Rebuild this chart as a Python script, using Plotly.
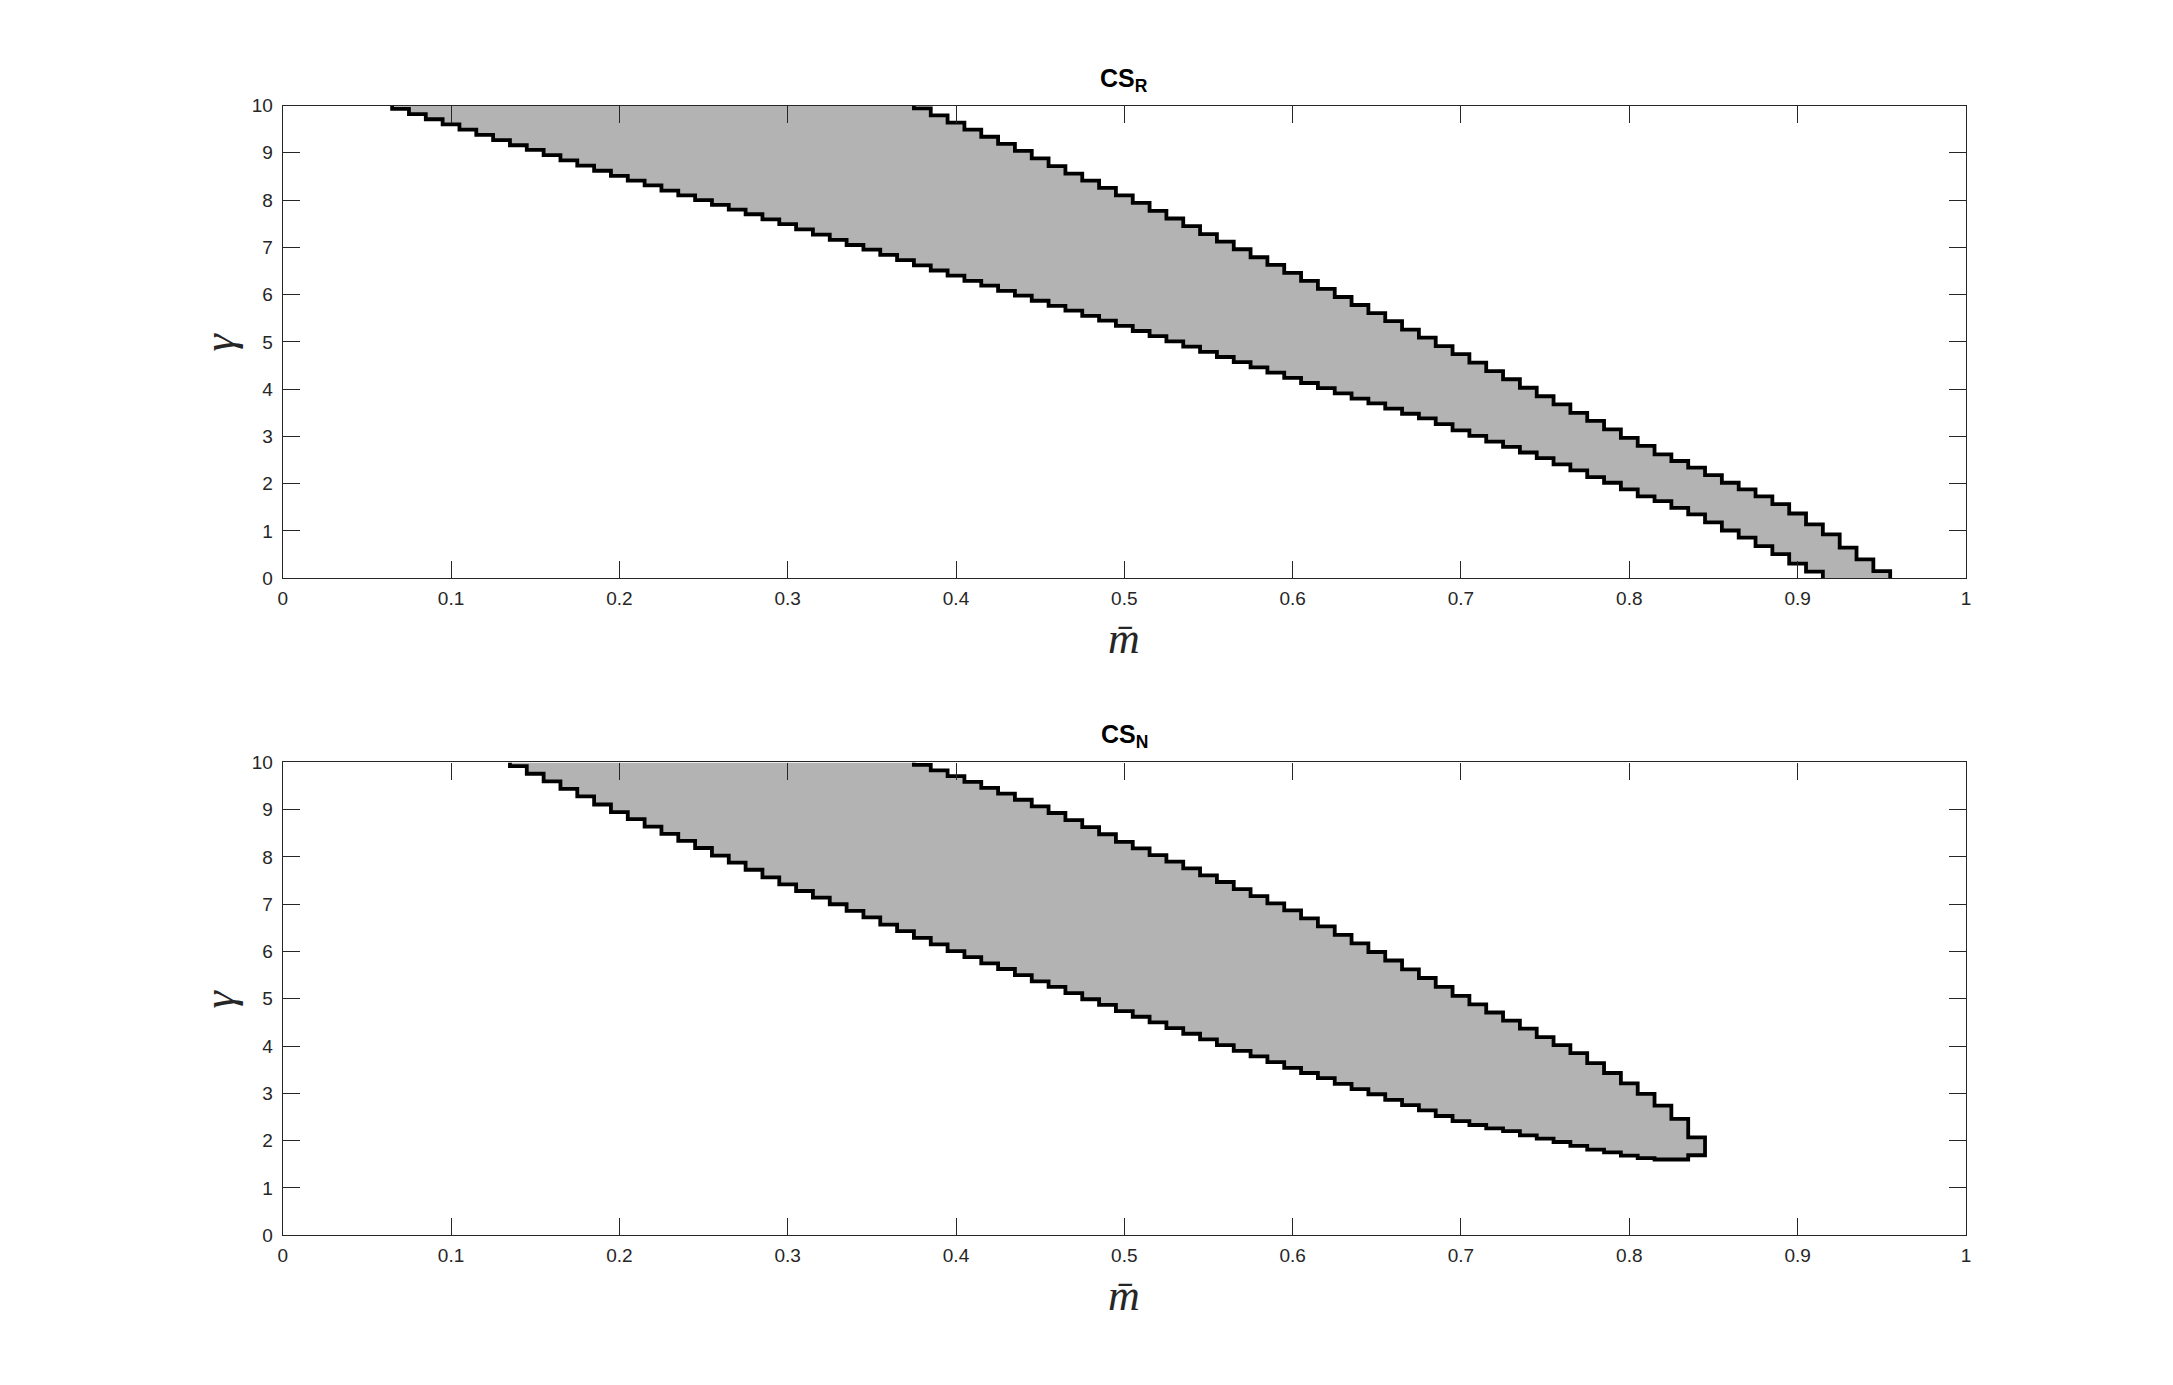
import plotly.graph_objects as go

# ---------------- data ----------------
# CS_R : lower boundary of the region (gamma at each m-cell, cell width 0.01)
M_R_LOW = [0.07, 0.08, 0.09, 0.10, 0.11, 0.12, 0.13, 0.14, 0.15, 0.16, 0.17, 0.18, 0.19, 0.20,
           0.21, 0.22, 0.23, 0.24, 0.25, 0.26, 0.27, 0.28, 0.29, 0.30, 0.31, 0.32, 0.33, 0.34,
           0.35, 0.36, 0.37, 0.38, 0.39, 0.40, 0.41, 0.42, 0.43, 0.44, 0.45, 0.46, 0.47, 0.48,
           0.49, 0.50, 0.51, 0.52, 0.53, 0.54, 0.55, 0.56, 0.57, 0.58, 0.59, 0.60, 0.61, 0.62,
           0.63, 0.64, 0.65, 0.66, 0.67, 0.68, 0.69, 0.70, 0.71, 0.72, 0.73, 0.74, 0.75, 0.76,
           0.77, 0.78, 0.79, 0.80, 0.81, 0.82, 0.83, 0.84, 0.85, 0.86, 0.87, 0.88, 0.89, 0.90, 0.91]
G_R_LOW = [9.93, 9.82, 9.71, 9.60, 9.49, 9.38, 9.27, 9.16, 9.06, 8.95, 8.84, 8.73, 8.62, 8.51,
           8.41, 8.31, 8.20, 8.10, 8.00, 7.90, 7.80, 7.70, 7.59, 7.49, 7.38, 7.27, 7.16, 7.05,
           6.95, 6.84, 6.73, 6.62, 6.51, 6.40, 6.29, 6.19, 6.08, 5.98, 5.87, 5.76, 5.66, 5.55,
           5.45, 5.34, 5.23, 5.12, 5.01, 4.90, 4.79, 4.68, 4.57, 4.46, 4.35, 4.24, 4.13, 4.02,
           3.91, 3.80, 3.70, 3.59, 3.48, 3.38, 3.26, 3.13, 3.01, 2.89, 2.78, 2.66, 2.54, 2.41,
           2.28, 2.14, 2.02, 1.88, 1.73, 1.63, 1.49, 1.35, 1.18, 1.01, 0.86, 0.68, 0.51, 0.31, 0.14]

# CS_R : upper boundary
M_R_UP = [0.38, 0.39, 0.40, 0.41, 0.42, 0.43, 0.44, 0.45, 0.46, 0.47, 0.48, 0.49, 0.50, 0.51,
          0.52, 0.53, 0.54, 0.55, 0.56, 0.57, 0.58, 0.59, 0.60, 0.61, 0.62, 0.63, 0.64, 0.65,
          0.66, 0.67, 0.68, 0.69, 0.70, 0.71, 0.72, 0.73, 0.74, 0.75, 0.76, 0.77, 0.78, 0.79,
          0.80, 0.81, 0.82, 0.83, 0.84, 0.85, 0.86, 0.87, 0.88, 0.89, 0.90, 0.91, 0.92, 0.93,
          0.94, 0.95]
G_R_UP = [9.94, 9.79, 9.64, 9.49, 9.34, 9.19, 9.04, 8.88, 8.72, 8.56, 8.41, 8.26, 8.10, 7.94,
          7.77, 7.61, 7.45, 7.28, 7.12, 6.96, 6.79, 6.63, 6.46, 6.29, 6.12, 5.95, 5.78, 5.61,
          5.44, 5.26, 5.09, 4.91, 4.74, 4.56, 4.38, 4.21, 4.03, 3.85, 3.68, 3.50, 3.33, 3.15,
          2.97, 2.80, 2.62, 2.48, 2.34, 2.18, 2.02, 1.88, 1.73, 1.57, 1.37, 1.14, 0.93, 0.65,
          0.40, 0.15]

# CS_N : lower boundary
M_N_LOW = [0.14, 0.15, 0.16, 0.17, 0.18, 0.19, 0.20, 0.21, 0.22, 0.23, 0.24, 0.25, 0.26, 0.27,
           0.28, 0.29, 0.30, 0.31, 0.32, 0.33, 0.34, 0.35, 0.36, 0.37, 0.38, 0.39, 0.40, 0.41,
           0.42, 0.43, 0.44, 0.45, 0.46, 0.47, 0.48, 0.49, 0.50, 0.51, 0.52, 0.53, 0.54, 0.55,
           0.56, 0.57, 0.58, 0.59, 0.60, 0.61, 0.62, 0.63, 0.64, 0.65, 0.66, 0.67, 0.68, 0.69,
           0.70, 0.71, 0.72, 0.73, 0.74, 0.75, 0.76, 0.77, 0.78, 0.79, 0.80, 0.81, 0.82, 0.83, 0.84]
G_N_LOW = [9.92, 9.76, 9.60, 9.44, 9.28, 9.11, 8.95, 8.80, 8.64, 8.49, 8.34, 8.19, 8.03, 7.88,
           7.73, 7.57, 7.42, 7.28, 7.14, 7.00, 6.86, 6.72, 6.57, 6.43, 6.29, 6.15, 6.01, 5.88,
           5.75, 5.63, 5.50, 5.37, 5.25, 5.12, 4.99, 4.87, 4.74, 4.62, 4.50, 4.38, 4.26, 4.14,
           4.02, 3.90, 3.78, 3.66, 3.54, 3.43, 3.32, 3.20, 3.09, 2.98, 2.86, 2.75, 2.64, 2.52,
           2.41, 2.33, 2.26, 2.20, 2.11, 2.04, 1.97, 1.89, 1.81, 1.75, 1.68, 1.63, 1.60, 1.60, 1.69]

# CS_N : upper boundary
M_N_UP = [0.38, 0.39, 0.40, 0.41, 0.42, 0.43, 0.44, 0.45, 0.46, 0.47, 0.48, 0.49, 0.50, 0.51,
          0.52, 0.53, 0.54, 0.55, 0.56, 0.57, 0.58, 0.59, 0.60, 0.61, 0.62, 0.63, 0.64, 0.65,
          0.66, 0.67, 0.68, 0.69, 0.70, 0.71, 0.72, 0.73, 0.74, 0.75, 0.76, 0.77, 0.78, 0.79,
          0.80, 0.81, 0.82, 0.83, 0.84]
G_N_UP = [9.95, 9.83, 9.71, 9.59, 9.46, 9.34, 9.21, 9.07, 8.93, 8.78, 8.63, 8.48, 8.32, 8.18,
          8.04, 7.90, 7.76, 7.61, 7.47, 7.32, 7.17, 7.02, 6.87, 6.70, 6.53, 6.35, 6.17, 5.99,
          5.81, 5.62, 5.44, 5.25, 5.06, 4.88, 4.71, 4.54, 4.37, 4.19, 4.02, 3.85, 3.64, 3.43,
          3.21, 2.99, 2.74, 2.46, 2.07]

X_TICKS = [0, 0.1, 0.2, 0.3, 0.4, 0.5, 0.6, 0.7, 0.8, 0.9, 1]
X_TICK_LABELS = ["0", "0.1", "0.2", "0.3", "0.4", "0.5", "0.6", "0.7", "0.8", "0.9", "1"]
Y_TICKS = [0, 1, 2, 3, 4, 5, 6, 7, 8, 9, 10]
Y_TICK_LABELS = ["0", "1", "2", "3", "4", "5", "6", "7", "8", "9", "10"]
TITLES = ["<b>CS<sub>R</sub></b>", "<b>CS<sub>N</sub></b>"]
X_LABEL = "m\u0304"
Y_LABEL = "\u03b3"
G_MAX = 10
G_MIN = 0
HALF = 0.005  # half cell width of the m-grid

# ---------------- helpers ----------------
def stairs(ms, gs):
    xs, ys = [], []
    for m, g in zip(ms, gs):
        xs += [m - HALF, m + HALF]
        ys += [g, g]
    return xs, ys

FILL = "#b3b3b3"
AX = "#262626"
LW = 3.8

fig = go.Figure()

# ---- CS_R (top, axes x/y) ----
lx, ly = stairs(M_R_LOW, G_R_LOW)
lx = [M_R_LOW[0] - HALF] + lx + [M_R_LOW[-1] + HALF]
ly = [G_MAX] + ly + [G_MIN]
ux, uy = stairs(M_R_UP, G_R_UP)
ux = [M_R_UP[0] - HALF] + ux + [M_R_UP[-1] + HALF]
uy = [G_MAX] + uy + [G_MIN]
fig.add_trace(go.Scatter(x=lx + ux[::-1], y=ly + uy[::-1], fill="toself", fillcolor=FILL,
                         mode="none", hoverinfo="skip", showlegend=False, xaxis="x", yaxis="y"))
for xs, ys in [(lx, ly), (ux, uy)]:
    fig.add_trace(go.Scatter(x=xs, y=ys, mode="lines", line=dict(color="black", width=LW),
                             hoverinfo="skip", showlegend=False, xaxis="x", yaxis="y"))

# ---- CS_N (bottom, axes x2/y2) ----
lx, ly = stairs(M_N_LOW, G_N_LOW)
lx = [M_N_LOW[0] - HALF] + lx
ly = [G_MAX] + ly
ux, uy = stairs(M_N_UP, G_N_UP)
ux = [M_N_UP[0] - HALF] + ux
uy = [G_MAX] + uy
px = lx + ux[::-1]
py = ly + uy[::-1]
fig.add_trace(go.Scatter(x=px, y=py, fill="toself", fillcolor=FILL, mode="none",
                         hoverinfo="skip", showlegend=False, xaxis="x2", yaxis="y2"))
fig.add_trace(go.Scatter(x=px, y=py, mode="lines", line=dict(color="black", width=LW),
                         hoverinfo="skip", showlegend=False, xaxis="x2", yaxis="y2"))

W, H = 2173, 1385
XD = [279 / W, 1970 / W]
YD_TOP = [1 - 577 / H, 1 - 97 / H]
YD_BOT = [1 - 1244 / H, 1 - 764 / H]

tickfont = dict(family="Liberation Sans, Arial, sans-serif", size=19, color=AX)
xcommon = dict(range=[0, 1], tickvals=X_TICKS, ticktext=X_TICK_LABELS, ticks="inside",
               ticklen=17, tickwidth=1, tickcolor=AX, showline=True, linecolor=AX, linewidth=1.3,
               mirror="ticks", showgrid=False, zeroline=False, tickfont=tickfont, domain=XD,
               ticklabelstandoff=3, fixedrange=True)
ycommon = dict(range=[0, 10], tickvals=Y_TICKS, ticktext=Y_TICK_LABELS, ticks="inside",
               ticklen=17, tickwidth=1, tickcolor=AX, showline=True, linecolor=AX, linewidth=1.3,
               mirror="ticks", showgrid=False, zeroline=False, tickfont=tickfont,
               ticklabelstandoff=5, fixedrange=True)

fig.update_layout(
    width=W, height=H, autosize=False,
    margin=dict(l=0, r=0, t=0, b=0, pad=0),
    paper_bgcolor="white", plot_bgcolor="white",
    xaxis=dict(**xcommon, anchor="y"),
    yaxis=dict(**ycommon, domain=YD_TOP, anchor="x"),
    xaxis2=dict(**xcommon, anchor="y2"),
    yaxis2=dict(**ycommon, domain=YD_BOT, anchor="x2"),
)

ann = []
xc = (XD[0] + XD[1]) / 2
for title, yd in zip(TITLES, [YD_TOP, YD_BOT]):
    ann.append(dict(text=title, x=xc, y=yd[1], xref="paper", yref="paper", xanchor="center",
                    yanchor="middle", yshift=26, showarrow=False,
                    font=dict(family="Liberation Sans, Arial, sans-serif", size=25, color="black")))
    ann.append(dict(text="<i>" + X_LABEL + "</i>", x=xc, y=yd[0], xref="paper", yref="paper",
                    xanchor="center", yanchor="middle", yshift=-60, showarrow=False,
                    font=dict(family="Liberation Serif, serif", size=44, color=AX)))
    ann.append(dict(text="<i>" + Y_LABEL + "</i>", x=XD[0], y=(yd[0] + yd[1]) / 2, xref="paper",
                    yref="paper", xanchor="center", yanchor="middle", xshift=-63, textangle=-90,
                    showarrow=False, font=dict(family="Liberation Serif, serif", size=44, color=AX)))
fig.update_layout(annotations=ann)

fig.write_html("out.html", config={"displayModeBar": False},
               post_script="document.body.style.margin='0';document.body.style.overflow='hidden';"
                           "document.documentElement.style.overflow='hidden';")
